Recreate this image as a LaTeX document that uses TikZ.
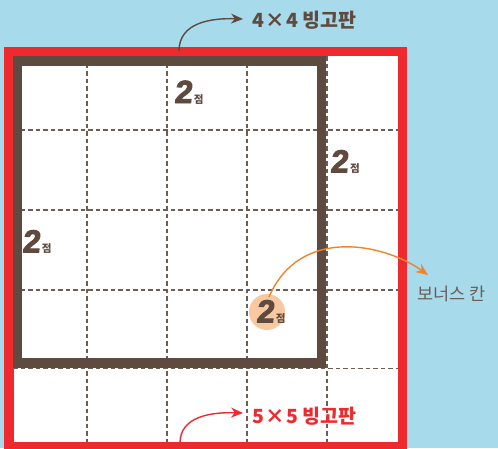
\documentclass[tikz,border=0pt]{standalone}
\usepackage{fontspec}
\usetikzlibrary{arrows.meta}
\newfontfamily\kr{Noto Sans CJK KR}
\newfontfamily\twofont[FakeSlant=0.1,FakeBold=3]{Liberation Sans}
\definecolor{skyb}{HTML}{A7DAEB}
\definecolor{redf}{HTML}{EE2A2F}
\definecolor{brownf}{HTML}{5E4A3F}
\definecolor{dashc}{HTML}{6E5D53}
\definecolor{orangea}{HTML}{F0842C}
\definecolor{peach}{HTML}{F8C8A0}
\definecolor{graytxt}{HTML}{6A5E58}
\newcommand{\twopt}{{\twofont\bfseries\fontsize{32}{32}\selectfont 2}\kern2pt{\kr\bfseries\fontsize{10.5}{10.5}\selectfont 점}}
\tikzset{
  gridline/.style={dashc, line width=1.4pt, dash pattern=on 4.5pt off 3pt},
  ptlabel/.style={anchor=base west, inner sep=0pt, text=brownf},
  arrowbase/.style={line width=1.4pt, -{Stealth[length=12pt,width=10pt]}},
}
\begin{document}
\begin{tikzpicture}[x=1pt,y=-1pt]
\useasboundingbox (0,0) rectangle (498,448);
\fill[skyb] (0,0) rectangle (498,448);
\fill[white] (9,51.3) rectangle (402.5,450);
% dashed grid
\foreach \x in {87,167,247,327} \draw[gridline] (\x,56) -- (\x,442);
\foreach \y in {130,210,290,368.5} \draw[gridline] (13,\y) -- (398,\y);
% red 5x5 frame
\draw[redf, line width=9.5pt] (9,51.3) rectangle (402.5,446.8);
% brown 4x4 frame
\draw[brownf, line width=9.5pt] (17.5,61) rectangle (321.5,363);
% point labels
\node[ptlabel] (p1) at (174,103) {\twopt};
\node[ptlabel] (p2) at (330,172.5) {\twopt};
\node[ptlabel] (p3) at (22,252.5) {\twopt};
\node[circle, fill=peach, minimum size=36pt, inner sep=0pt] (bc) at (267,312) {};
\node[ptlabel] (p4) at (256,322.5) {\twopt};
% texts
\node[anchor=west, inner sep=0pt, text=brownf] (t1) at (252,20) {\kr\bfseries\fontsize{19.5}{19.5}\selectfont 4\kern1.5pt×\kern1.5pt4 빙고판};
\node[anchor=west, inner sep=0pt, text=redf] (t2) at (252,416) {\kr\bfseries\fontsize{19.5}{19.5}\selectfont 5\kern1.5pt×\kern1.5pt5 빙고판};
\node[anchor=west, inner sep=0pt, text=graytxt] (t3) at (417,294) {\kr\fontsize{17.5}{17.5}\selectfont 보너스 칸};
% arrows
\coordinate (s1) at (179,51);
\coordinate (e1) at (243,19);
\draw[arrowbase, brownf] (s1) .. controls (179,22) and (212,18) .. (e1);
\coordinate (s2) at (180,443);
\coordinate (e2) at (243,413);
\draw[arrowbase, redf] (s2) .. controls (180,416) and (212,412) .. (e2);
\coordinate (s3) at (269,297);
\coordinate (e3) at (428,275);
\draw[arrowbase, orangea] (s3) .. controls (300,225) and (385,244) .. (e3);
\end{tikzpicture}
\end{document}
